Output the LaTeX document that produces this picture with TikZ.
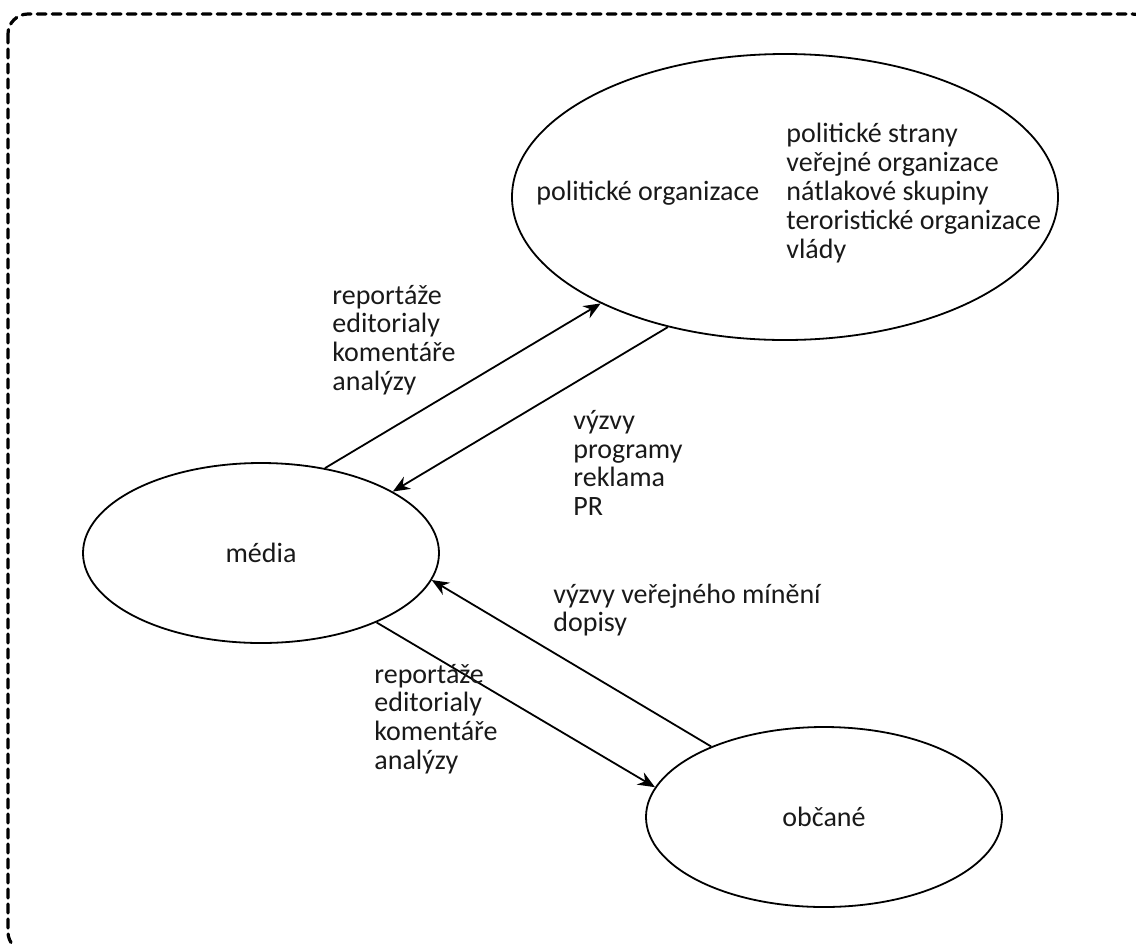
\documentclass[tikz,border=0pt]{standalone}
\usepackage{fontspec}
\setmainfont{Carlito}
\usetikzlibrary{shapes.geometric, arrows.meta, positioning}
\tikzset{
	every node/.style={font=\fontsize{14}{14.4}\selectfont, text=black!90},
	blob/.style={draw, ellipse, line width=0.9pt, inner sep=0pt},
	flow/.style={-{Stealth[length=8.5pt, width=7pt]}, line width=0.9pt},
	lbl/.style={anchor=west, align=left, inner sep=0pt},
}

\begin{document}
\begin{tikzpicture}[x=0.5pt, y=-0.5pt]
	\useasboundingbox (0,0) rectangle (1136,944);
	
	% ramecek
	\begin{scope}
		\clip (0,0) rectangle (1136,944);
		\draw[line width=1.6pt, dash pattern=on 4.5pt off 3pt, line cap=round, rounded corners=10pt] (8,14) rectangle (1152,952);
	\end{scope}
	
	% elipsy
	\node[blob, minimum width=273pt, minimum height=143pt] (pol) at (785,197) {};
	\node[blob, minimum width=178pt, minimum height=90pt] (media) at (261,553) {média};
	\node[blob, minimum width=178pt, minimum height=90pt] (obcane) at (824,817) {občané};
	
	% texty v elipse
	\node[lbl] (polName) at (536,193) {politické organizace};
	\node[lbl] (polList) at (786,193) {politické strany\\veřejné organizace\\nátlakové skupiny\\teroristické organizace\\vlády};
	
	% sipky
	\draw[flow] (media.53) -- (pol.210);
	\draw[flow] (pol.228) -- (media.25);
	\draw[flow] (obcane.148) -- (media.-9.5);
	\draw[flow] (media.-31) -- (obcane.170.5);
	
	% popisky
	\node[lbl] (repUp) at (332,340) {reportáže\\editorialy\\komentáře\\analýzy};
	\node[lbl] (vyzvy) at (573,463) {výzvy\\programy\\reklama\\PR};
	\node[lbl] (dopisy) at (553,610) {výzvy veřejného mínění\\dopisy};
	\node[lbl] (repDown) at (374,719) {reportáže\\editorialy\\komentáře\\analýzy};
	
\end{tikzpicture}
\end{document}
